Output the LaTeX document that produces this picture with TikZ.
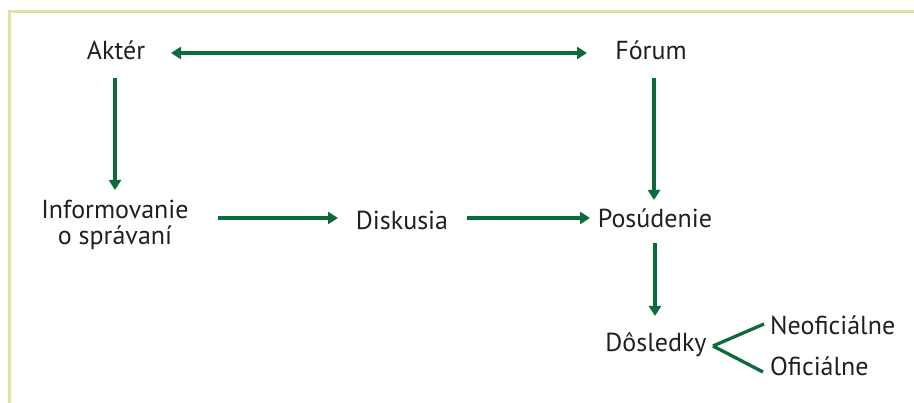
\documentclass[tikz,border=0pt]{standalone}
\usepackage{fontspec}
\setmainfont{PT Sans}
\usepackage{xcolor}
\usetikzlibrary{positioning,arrows.meta}
\definecolor{arrgreen}{HTML}{0B6B3A}
\definecolor{framegreen}{HTML}{DDE5A2}
\definecolor{txtgray}{HTML}{231F20}
\begin{document}
\begin{tikzpicture}[
      x=1pt, y=-1pt,
      term/.style={inner sep=1pt, align=center, text=txtgray, font=\fontsize{26}{26}\selectfont},
      arr/.style={-{Triangle[length=10pt, width=12pt]}, line width=3.3pt, arrgreen},
      twoarr/.style={{Triangle[length=10pt, width=12pt]}-{Triangle[length=10pt, width=12pt]}, line width=3.3pt, arrgreen},
      branch/.style={line width=3.3pt, arrgreen}
  ]
    \useasboundingbox (0,0) rectangle (914,403);
    \draw[framegreen, line width=3pt] (9,403) -- (9,12) -- (914,12);
    \node[term] (akter) at (116,50) {Aktér};
    \node[term] (forum) at (651,50) {Fórum};
    \node[term] (info) at (115,225) {Informovanie\\o správaní};
    \node[term] (disk) at (402,220) {Diskusia};
    \node[term] (posud) at (655,218) {Posúdenie};
    \node[term] (dosl) at (656,345) {Dôsledky};
    \node[term, anchor=west] (neof) at (769,325) {Neoficiálne};
    \node[term, anchor=west] (ofic) at (769,366) {Oficiálne};
    \coordinate (dosl-e) at (713,346);
    \draw[twoarr] (171,53) -- (587,53);
    \draw[arr] (115,78) -- (115,190);
    \draw[arr] (218,218) -- (338,218);
    \draw[arr] (467,218) -- (590,218);
    \draw[arr] (654,78) -- (654,200);
    \draw[arr] (655,243) -- (655,316);
    \draw[branch] (dosl-e) -- (764,324);
    \draw[branch] (dosl-e) -- (763,372);
  \end{tikzpicture}
\end{document}
